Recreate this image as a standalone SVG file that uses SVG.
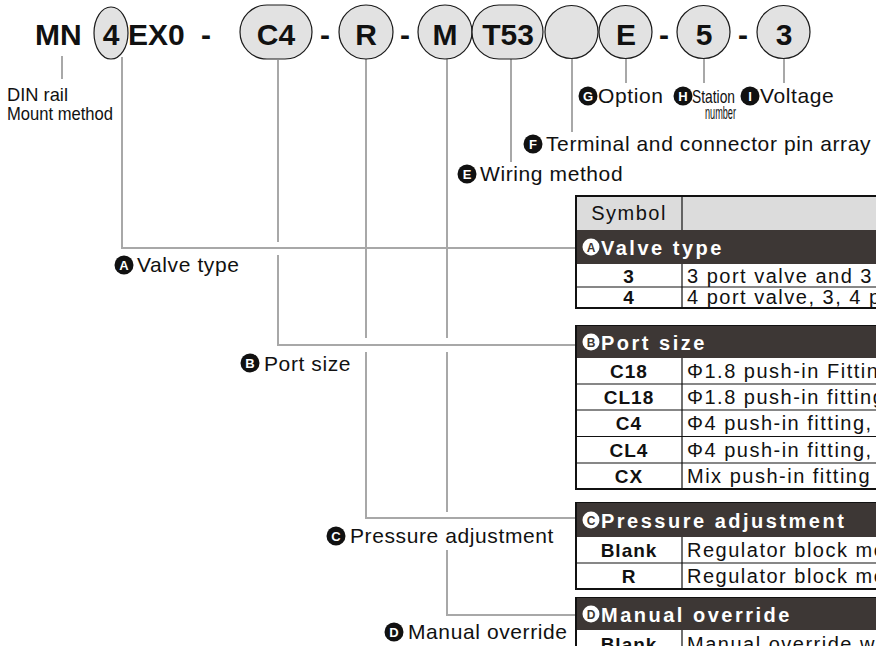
<svg xmlns="http://www.w3.org/2000/svg" width="876" height="646" viewBox="0 0 876 646">
<style>
.lead{stroke:#a8a8a8;stroke-width:2;fill:none}
.shape{fill:#e2e2e2;stroke:#1a1a1a;stroke-width:1.2}
.big{font-family:"Liberation Sans",Arial,sans-serif;font-weight:bold;font-size:30px;fill:#111}
.mid{text-anchor:middle}
.lbl{font-family:"Liberation Sans",Arial,sans-serif;font-size:21px;letter-spacing:0.6px;fill:#111}
.nar{font-family:"Liberation Sans",Arial,sans-serif;font-size:19px;fill:#111}
.bdg{fill:#111}
.bdgT{font-family:"Liberation Sans",Arial,sans-serif;font-weight:bold;font-size:13px;fill:#fff;text-anchor:middle}
.frame{fill:#fff;stroke:#111;stroke-width:2}
.band{fill:#3d3735}
.hdr{font-family:"Liberation Sans",Arial,sans-serif;font-weight:bold;font-size:20px;letter-spacing:2.5px;fill:#fff}
.hb{fill:#fff}
.hbT{font-family:"Liberation Sans",Arial,sans-serif;font-weight:bold;font-size:12px;fill:#3d3735;text-anchor:middle}
.rl{stroke:#111;stroke-width:1.2}
.sym{font-family:"Liberation Sans",Arial,sans-serif;font-weight:bold;font-size:19px;letter-spacing:1px;text-anchor:middle;fill:#111}
.desc{font-family:"Liberation Sans",Arial,sans-serif;font-size:20px;letter-spacing:1.5px;fill:#111}
</style>

<g id="connectors">
<line class="lead" x1="62" y1="56" x2="62" y2="79"/>
<polyline class="lead" points="122,57 122,248 576,248"/>
<polyline class="lead" points="278,60 278,242"/>
<polyline class="lead" points="278,255 278,345 576,345"/>
<line class="lead" x1="366" y1="59" x2="366" y2="338"/>
<polyline class="lead" points="366,352 366,518 576,518"/>
<line class="lead" x1="447" y1="59" x2="447" y2="338"/>
<line class="lead" x1="447" y1="352" x2="447" y2="512"/>
<polyline class="lead" points="447,550 447,615 576,615"/>
<line class="lead" x1="511" y1="59" x2="511" y2="162"/>
<line class="lead" x1="572" y1="59" x2="572" y2="132"/>
<line class="lead" x1="626" y1="59" x2="626" y2="83"/>
<line class="lead" x1="704" y1="59" x2="704" y2="83"/>
<line class="lead" x1="784" y1="59" x2="784" y2="83"/>
</g>

<g id="code">
<text class="big" x="35" y="45">MN</text>
<g id="n4"><ellipse class="shape" cx="111" cy="33" rx="17" ry="26"/><text class="big mid" x="111" y="45">4</text></g>
<text class="big" x="128" y="45">EX0</text>
<text class="big mid" x="206" y="45">-</text>
<g id="nC4"><rect class="shape" x="240" y="5" width="72" height="54" rx="27"/><text class="big mid" x="276" y="45">C4</text></g>
<text class="big mid" x="325" y="45">-</text>
<g id="nR"><circle class="shape" cx="366" cy="32" r="27"/><text class="big mid" x="366" y="45">R</text></g>
<text class="big mid" x="405" y="45">-</text>
<g id="nM"><circle class="shape" cx="445" cy="32" r="27"/><text class="big mid" x="445" y="45">M</text></g>
<g id="nT53"><rect class="shape" x="472" y="5" width="71" height="54" rx="27"/><text class="big mid" x="508" y="45">T53</text></g>
<g id="nF"><circle class="shape" cx="571.5" cy="32" r="26.5"/></g>
<g id="nE"><circle class="shape" cx="625.5" cy="32" r="26.5"/><text class="big mid" x="626" y="45">E</text></g>
<text class="big mid" x="664" y="45">-</text>
<g id="n5"><circle class="shape" cx="703.5" cy="32" r="26.5"/><text class="big mid" x="704" y="45">5</text></g>
<text class="big mid" x="743" y="45">-</text>
<g id="n3"><circle class="shape" cx="783.5" cy="32" r="26.5"/><text class="big mid" x="784" y="45">3</text></g>
</g>

<g id="labels">
<text class="nar" x="7" y="101" textLength="61" lengthAdjust="spacingAndGlyphs">DIN rail</text>
<text class="nar" x="7" y="120" textLength="106" lengthAdjust="spacingAndGlyphs">Mount method</text>
<g id="lblG"><circle class="bdg" cx="588" cy="96" r="9.5"/><text class="bdgT" x="588" y="100.5">G</text><text class="lbl" x="598" y="103">Option</text></g>
<g id="lblH"><circle class="bdg" cx="683" cy="96" r="9.5"/><text class="bdgT" x="683" y="100.5">H</text><text class="nar" x="692" y="103" textLength="43" lengthAdjust="spacingAndGlyphs">Station</text><text class="nar" x="705" y="119" textLength="31" lengthAdjust="spacingAndGlyphs">number</text></g>
<g id="lblI"><circle class="bdg" cx="750" cy="96" r="9.5"/><text class="bdgT" x="750" y="100.5">I</text><text class="lbl" x="760" y="103">Voltage</text></g>
<g id="lblF"><circle class="bdg" cx="533" cy="144" r="9.5"/><text class="bdgT" x="533" y="148.5">F</text><text class="lbl" x="546" y="151">Terminal and connector pin array</text></g>
<g id="lblE"><circle class="bdg" cx="467" cy="174" r="9.5"/><text class="bdgT" x="467" y="178.5">E</text><text class="lbl" x="480" y="181">Wiring method</text></g>
<g id="lblA"><circle class="bdg" cx="124" cy="265" r="9.5"/><text class="bdgT" x="124" y="269.5">A</text><text class="lbl" x="137" y="272">Valve type</text></g>
<g id="lblB"><circle class="bdg" cx="250" cy="363" r="9.5"/><text class="bdgT" x="250" y="367.5">B</text><text class="lbl" x="264" y="371">Port size</text></g>
<g id="lblC"><circle class="bdg" cx="336" cy="536" r="9.5"/><text class="bdgT" x="336" y="540.5">C</text><text class="lbl" x="350" y="543">Pressure adjustment</text></g>
<g id="lblD"><circle class="bdg" cx="394" cy="632" r="9.5"/><text class="bdgT" x="394" y="636.5">D</text><text class="lbl" x="408" y="639">Manual override</text></g>
</g>

<g id="tableA">
<rect class="frame" x="576" y="196" width="320" height="112"/>
<rect x="577" y="197" width="318" height="33" fill="#dcdcdc"/>
<line class="rl" x1="682" y1="196" x2="682" y2="230"/>
<text class="desc mid" x="629" y="220">Symbol</text>
<rect class="band" x="577" y="230" width="318" height="34"/>
<circle class="hb" cx="591" cy="247" r="8.5"/><text class="hbT" x="591" y="251.5">A</text>
<text class="hdr" x="601" y="255">Valve type</text>
<line class="rl" x1="576" y1="287" x2="896" y2="287"/>
<line class="rl" x1="682" y1="264" x2="682" y2="308"/>
<text class="sym" x="629" y="283">3</text><text class="desc" x="687" y="283">3 port valve and 3</text>
<text class="sym" x="629" y="304">4</text><text class="desc" x="687" y="304">4 port valve, 3, 4 p</text>
</g>

<g id="tableB">
<rect class="frame" x="576" y="326" width="320" height="163"/>
<rect class="band" x="577" y="326" width="318" height="32"/>
<circle class="hb" cx="591" cy="342" r="8.5"/><text class="hbT" x="591" y="346.5">B</text>
<text class="hdr" x="601" y="350">Port size</text>
<line class="rl" x1="576" y1="384" x2="896" y2="384"/>
<line class="rl" x1="576" y1="410" x2="896" y2="410"/>
<line class="rl" x1="576" y1="436.5" x2="896" y2="436.5"/>
<line class="rl" x1="576" y1="463" x2="896" y2="463"/>
<line class="rl" x1="682" y1="358" x2="682" y2="489"/>
<text class="sym" x="629" y="378">C18</text><text class="desc" x="687" y="378">Φ1.8 push-in Fitting</text>
<text class="sym" x="629" y="404">CL18</text><text class="desc" x="687" y="404">Φ1.8 push-in fitting</text>
<text class="sym" x="629" y="430">C4</text><text class="desc" x="687" y="430">Φ4 push-in fitting,</text>
<text class="sym" x="629" y="457">CL4</text><text class="desc" x="687" y="457">Φ4 push-in fitting,</text>
<text class="sym" x="629" y="483">CX</text><text class="desc" x="687" y="483">Mix push-in fitting</text>
</g>

<g id="tableC">
<rect class="frame" x="576" y="503" width="320" height="86"/>
<rect class="band" x="577" y="503" width="318" height="34"/>
<circle class="hb" cx="591" cy="520" r="8.5"/><text class="hbT" x="591" y="524.5">C</text>
<text class="hdr" x="601" y="528">Pressure adjustment</text>
<line class="rl" x1="576" y1="563" x2="896" y2="563"/>
<line class="rl" x1="682" y1="537" x2="682" y2="589"/>
<text class="sym" x="629" y="557">Blank</text><text class="desc" x="687" y="557">Regulator block mo</text>
<text class="sym" x="629" y="583">R</text><text class="desc" x="687" y="583">Regulator block mo</text>
</g>

<g id="tableD">
<rect class="frame" x="576" y="598" width="320" height="70"/>
<rect class="band" x="577" y="598" width="318" height="32"/>
<circle class="hb" cx="591" cy="614" r="8.5"/><text class="hbT" x="591" y="618.5">D</text>
<text class="hdr" x="601" y="622">Manual override</text>
<line class="rl" x1="682" y1="630" x2="682" y2="668"/>
<text class="sym" x="629" y="651">Blank</text><text class="desc" x="687" y="651">Manual override with</text>
</g>
</svg>
